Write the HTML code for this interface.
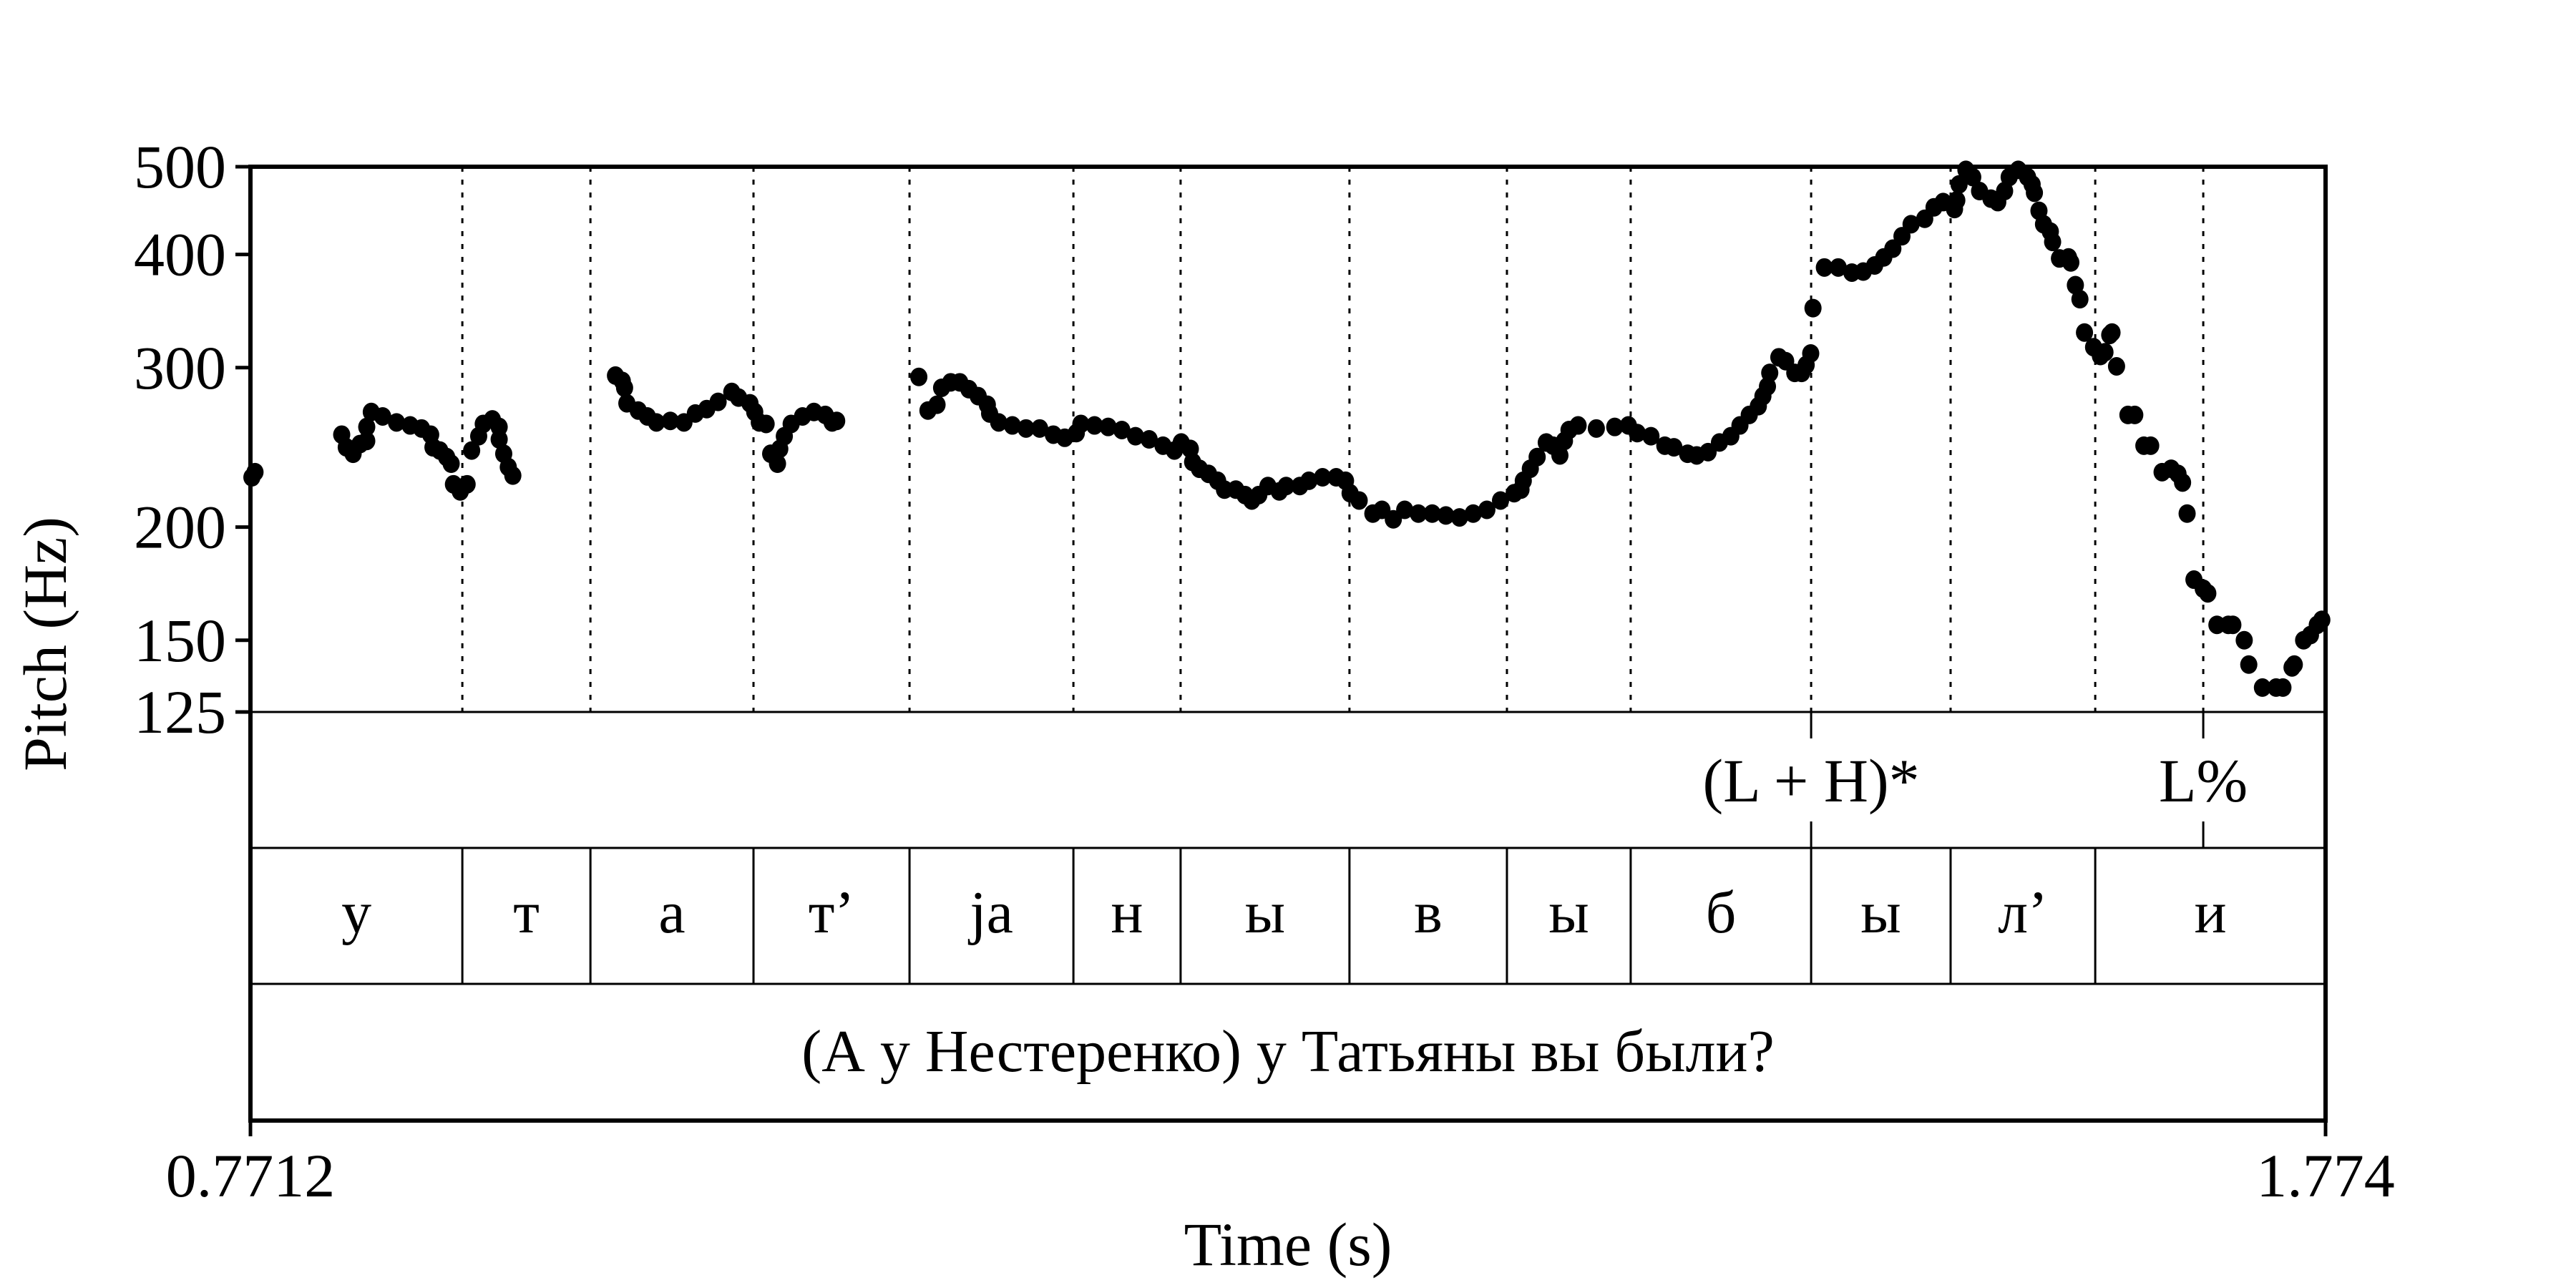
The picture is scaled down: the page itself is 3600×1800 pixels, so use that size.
<!DOCTYPE html>
<html><head><meta charset="utf-8">
<style>
html,body{margin:0;padding:0;background:#fff;}
svg{display:block;}
text{font-family:"Liberation Serif","Noto Serif CJK SC",serif;fill:#000;}
</style></head>
<body>
<svg id="chart" width="3600" height="1800" viewBox="0 0 3600 1800" xmlns="http://www.w3.org/2000/svg"></svg>
<script>
const timeMin = 0.7712, timeMax = 1.774;
const yTicks = [500, 400, 300, 200, 150, 125];
const segBounds = [0.8736,0.9355,1.0143,1.0897,1.1689,1.2207,1.3023,1.3784,1.4382,1.5254,1.5928,1.6627];
const segLabels = ["у","т","а","т’","ja","н","ы","в","ы","б","ы","л’","и"];
const toneTimes = [1.5254, 1.7149];
const toneLabels = ["(L + H)*", "L%"];
const sentence = "(А у Нестеренко) у Татьяны вы были?";
const ptTime = [0.7719,0.7734,
0.8153,0.8175,0.8208,0.8241,0.8274,0.8274,0.8296,0.8351,0.8418,0.8484,0.8539,0.8583,0.8594,0.8627,0.8660,0.8682,0.8693,0.8726,0.8759,0.8781,0.8815,0.8837,0.8881,0.8914,0.8914,0.8936,0.8958,0.8980,
0.9476,0.9509,0.9520,0.9531,0.9586,0.9630,0.9674,0.9741,0.9807,0.9862,0.9917,0.9972,1.0038,1.0071,1.0126,1.0149,1.0171,1.0204,
1.0226,1.0259,1.0270,1.0292,1.0325,1.0380,1.0435,1.0490,1.0523,1.0545,
1.0942,1.0986,1.1030,1.1052,1.1096,1.1140,1.1184,1.1229,1.1273,1.1284,1.1328,1.1394,1.1460,1.1526,1.1592,1.1647,1.1703,1.1725,1.1791,1.1857,1.1923,1.1989,1.2055,1.2122,1.2177,1.2210,1.2254,1.2265,1.2298,1.2342,1.2386,1.2419,1.2474,1.2518,1.2551,1.2585,1.2629,1.2684,1.2717,1.2783,1.2827,1.2893,1.2959,1.3004,1.3026,1.3070,1.3136,1.3180,1.3235,1.3290,1.3356,1.3423,1.3489,1.3555,1.3621,1.3687,1.3753,1.3819,1.3852,1.3863,1.3897,1.3930,1.3974,1.4007,1.4040,1.4062,1.4084,1.4128,1.4216,1.4305,1.4371,
1.4414,1.4480,1.4547,1.4591,1.4657,1.4701,1.4756,1.4811,1.4866,1.4910,1.4955,1.4999,1.5021,1.5043,1.5054,1.5098,1.5131,1.5175,1.5208,1.5230,1.5252,
1.5263,1.5318,1.5385,1.5451,1.5506,1.5561,1.5605,1.5649,1.5693,1.5737,1.5803,1.5848,1.5892,1.5947,1.5958,1.5969,1.6002,1.6035,1.6068,1.6123,1.6156,1.6189,1.6211,1.6255,1.6300,1.6322,1.6333,1.6355,1.6377,1.6410,1.6421,1.6454,1.6498,1.6509,1.6531,
1.6553,1.6575,1.6619,1.6652,1.6674,1.6697,1.6708,1.6730,1.6785,1.6818,1.6862,1.6895,1.6950,1.6994,1.7027,1.7049,1.7071,1.7104,1.7149,1.7171,1.7215,1.7270,1.7292,1.7347,1.7369,1.7435,1.7501,1.7534,1.7578,1.7589,1.7634,1.7667,1.7700,1.7722];
const ptHz = [227,230,
253,245,241,247,249,258,268,265,261,259,257,253,245,243,239,235,223,219,223,243,252,260,263,258,250,241,233,228,
294,290,285,274,269,265,261,262,261,267,270,275,282,278,274,268,261,260,
241,235,244,252,260,265,268,266,261,262,
293,269,273,285,289,289,284,279,273,267,261,259,257,257,253,251,254,260,259,258,256,252,250,246,243,248,244,236,232,229,225,220,220,217,214,217,222,219,222,222,225,227,227,225,218,214,207,209,204,209,207,207,206,205,207,209,214,218,220,225,232,239,248,246,240,249,256,259,257,258,259,254,
252,246,245,241,240,242,248,252,259,266,272,279,286,296,308,305,296,296,302,311,349,
387,387,382,383,389,397,406,419,432,438,451,457,449,459,478,496,487,470,461,457,470,487,496,487,478,468,447,432,424,413,396,397,392,370,357,
328,316,309,312,326,328,301,266,266,246,246,230,232,229,224,207,175,171,169,156,156,156,150,141,133,133,133,140,141,150,152,156,158,150];

const svg = document.getElementById('chart');
const NS = 'http://www.w3.org/2000/svg';
const L = 350, R = 3250, T = 233, PB = 995, B1 = 1185, B2 = 1375, B3 = 1566;
const hzMin = 125, hzMax = 500;
function xOf(t){ return L + (t - timeMin) / (timeMax - timeMin) * (R - L); }
function yOf(hz){ return PB - Math.log(hz / hzMin) / Math.log(hzMax / hzMin) * (PB - T); }
function mk(tag, attrs, parent){
  const e = document.createElementNS(NS, tag);
  for (const k in attrs) e.setAttribute(k, attrs[k]);
  (parent || svg).appendChild(e);
  return e;
}

const gDots = mk('g', {});


segBounds.forEach(t => {
  const ln = mk('line', {x1:xOf(t), x2:xOf(t), y1:T, y2:PB, stroke:'#000', 'stroke-width':3, 'stroke-dasharray':'7 11'}, gDots);
  
  
});
[toneTimes[1]].forEach(t => {
  const ln = mk('line', {x1:xOf(t), x2:xOf(t), y1:T, y2:PB, stroke:'#000', 'stroke-width':3, 'stroke-dasharray':'7 11'}, gDots);
  
  
});

const gPts = mk('g', {});


for (let i = 0; i < ptTime.length; i++) {
  const c = mk('ellipse', {cx:xOf(ptTime[i]), cy:yOf(ptHz[i]), rx:12, ry:13, fill:'#000'}, gPts);
  
  
}

[PB, B1, B2].forEach(y => {
  const ln = mk('line', {x1:L, x2:R, y1:y, y2:y, stroke:'#000', 'stroke-width':3});
  
  
});
segBounds.forEach(t => {
  const ln = mk('line', {x1:xOf(t), x2:xOf(t), y1:B1, y2:B2, stroke:'#000', 'stroke-width':3});
  
  
});
const edges = [timeMin].concat(segBounds, [timeMax]);
segLabels.forEach((s, i) => {
  const tx = mk('text', {x:(xOf(edges[i]) + xOf(edges[i+1])) / 2, y:1303, 'font-size':84, 'text-anchor':'middle'});
  tx.textContent = s;
  
  
});
toneTimes.forEach((t, i) => {
  const x = xOf(t);
  const a = mk('line', {x1:x, x2:x, y1:PB, y2:1032, stroke:'#000', 'stroke-width':3});
  
  
  const b = mk('line', {x1:x, x2:x, y1:1148, y2:B1, stroke:'#000', 'stroke-width':3});
  
  
  const tx = mk('text', {x:x, y:1120, 'font-size':86, 'text-anchor':'middle'});
  tx.textContent = toneLabels[i];
  
  
});
const st = mk('text', {x:(L+R)/2, y:1497, 'font-size':84, 'text-anchor':'middle'});
st.textContent = sentence;



const fr = mk('path', {d:`M${L},${T} H${R} V${B3} H${L} Z`, fill:'none', stroke:'#000', 'stroke-width':6});



yTicks.forEach(v => {
  const y = yOf(v);
  const tk = mk('line', {x1:L-21, x2:L, y1:y, y2:y, stroke:'#000', 'stroke-width':5});
  
  
  const tx = mk('text', {x:L-34, y:y+29, 'font-size':86, 'text-anchor':'end'});
  tx.textContent = String(v);
  
  
});
[[timeMin, '0.7712'], [timeMax, '1.774']].forEach(p => {
  const x = xOf(p[0]);
  const tk = mk('line', {x1:x, x2:x, y1:B3, y2:1588, stroke:'#000', 'stroke-width':5});
  
  
  const tx = mk('text', {x:x, y:1672, 'font-size':86, 'text-anchor':'middle'});
  tx.textContent = p[1];
  
  
});
const xt = mk('text', {x:1800, y:1768, 'font-size':86, 'text-anchor':'middle'});
xt.textContent = 'Time (s)';


const yt = mk('text', {x:0, y:0, 'font-size':86, 'text-anchor':'middle', transform:'translate(92,900) rotate(-90)'});
yt.textContent = 'Pitch (Hz)';


</script>
</body></html>
